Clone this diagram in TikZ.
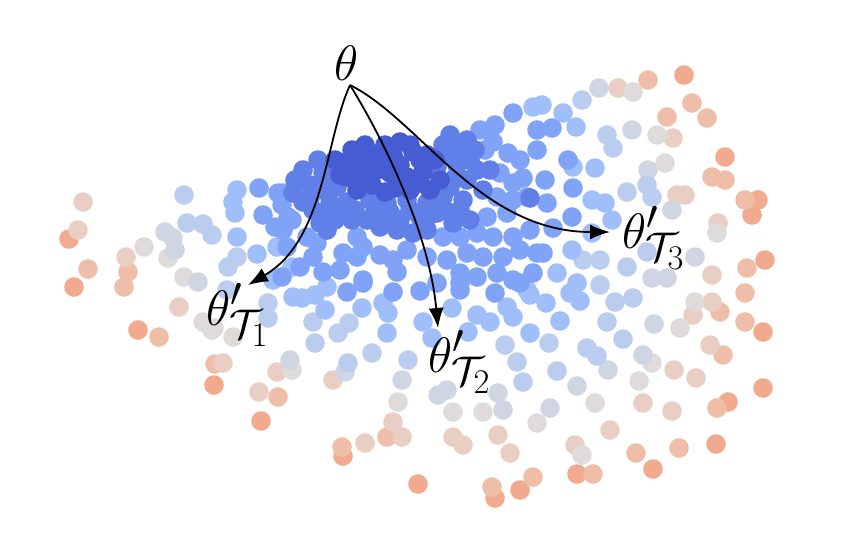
\documentclass[tikz,border=0pt]{standalone}
\usetikzlibrary{arrows.meta}
\definecolor{c0}{RGB}{70,92,210}
\definecolor{c1}{RGB}{96,128,232}
\definecolor{c2}{RGB}{128,163,247}
\definecolor{c3}{RGB}{160,191,250}
\definecolor{c4}{RGB}{186,205,238}
\definecolor{c5}{RGB}{207,213,226}
\definecolor{c6}{RGB}{223,219,218}
\definecolor{c7}{RGB}{233,207,195}
\definecolor{c8}{RGB}{239,190,168}
\definecolor{c9}{RGB}{242,170,143}
\def\dotlist{83/202/7, 78/230/7, 69/239/9, 88/269/8, 74/287/9, 126/257/7, 128/272/8, 124/287/8, 144/247/6, 165/232/5, 173/238/5, 175/250/5, 168/258/6, 184/195/4, 187/223/4, 203/224/4, 212/235/4, 184/277/6, 198/282/5, 179/307/7, 203/322/6, 214/328/6, 233/337/6, 138/330/9, 159/337/8, 237/190/3, 233/202/3, 235/213/3, 259/188/2, 278/193/2, 282/205/2, 263/215/2, 275/227/2, 237/237/3, 257/254/3, 237/257/4, 277/247/3, 228/267/4, 227/290/4, 273/280/3, 268/303/4, 268/318/4, 292/267/3, 293/297/3, 288/217/2,
212/330/6, 215/364/8, 223/363/7, 214/385/9, 259/392/7, 278/397/8, 277/372/7, 290/360/5, 292/370/6, 261/421/9,
302/298/3, 315/295/3, 327/287/3, 347/292/2, 363/283/2, 393/292/2, 388/313/3, 383/303/3, 362/308/3, 325/310/3, 313/322/4, 349/323/4, 338/333/4, 315/343/4, 387/333/3, 423/322/3, 432/338/3, 452/308/3, 460/290/2, 477/315/3, 468/332/3, 495/293/2, 490/322/3, 507/307/3, 513/317/3, 520/283/2, 530/295/3, 530/333/3, 505/345/4, 517/362/4, 523/382/4, 498/393/5, 503/410/5, 483/412/6, 453/412/6, 447/390/5, 438/395/5, 498/435/7, 510/453/7, 463/445/7, 453/437/7, 537/423/6, 333/380/7, 345/372/5, 348/363/4, 372/353/4, 408/360/4, 402/380/5, 398/402/6, 393/422/7, 402/437/7, 387/437/8, 365/443/7, 342/447/8, 343/456/9, 418/484/9, 492/487/8, 495/498/9, 520/490/9, 533/477/8,
684/75/9, 648/80/8, 633/92/6, 618/88/7, 599/88/5, 582/100/4, 563/113/3, 576/127/3, 542/105/3, 552/128/2, 537/130/2, 692/103/8, 707/118/8, 667/117/8, 673/138/7, 657/135/6, 632/130/5, 607/135/4, 613/148/4, 725/157/9, 712/177/8, 725/180/8, 665/163/6, 648/170/5, 647/185/4, 652/197/4, 677/195/7, 685/195/7, 745/200/8, 758/200/9, 752/215/9, 718/223/7, 717/233/6, 672/210/5, 627/192/4, 595/168/3, 573/167/3, 568/160/2, 537/150/2, 545/180/2, 573/188/2, 592/200/3, 605/203/3, 612/220/3, 547/203/2, 572/217/2, 553/228/2, 530/198/1, 592/233/3, 572/250/3, 543/253/2, 583/260/4, 600/260/4, 627/267/4, 647/252/4, 695/257/5, 712/275/7, 747/268/8, 765/260/9, 652/278/5, 667/278/5, 557/273/3, 577/283/3, 600/285/4,
546/303/3, 570/293/3, 580/301/3, 615/302/4, 633/298/4, 745/293/8, 695/302/6, 712/302/7, 720/312/8, 693/315/7, 745/322/8, 763/332/9, 560/321/3, 607/322/4, 654/324/5, 680/328/6, 549/343/4, 587/348/4, 597/356/4, 623/339/4, 643/355/5, 652/363/6, 674/370/7, 696/378/7, 710/345/7, 723/355/8, 763/388/9, 557/371/4, 608/370/5, 639/381/6, 577/386/5, 550/408/5, 595/403/6, 643/403/7, 672/411/7, 728/402/9, 717/408/8, 610/430/7, 575/445/7, 582/455/6, 636/453/8, 653/469/9, 679/448/8, 716/444/9, 577/474/9, 593/474/8,
303/170/1, 295/180/1, 283/193/2, 293/193/1, 310/198/1, 323/173/1, 343/163/0, 360/158/0, 370/155/0, 380/153/0, 400/142/0, 393/155/0, 413/152/0, 427/155/0, 423/172/0, 437/167/1, 447/155/1, 443/145/1, 450/135/1, 467/140/1, 480/130/2, 495/125/2, 513/113/2, 533/107/3, 457/165/1, 460/152/1, 470/160/1, 485/150/2, 493/142/2, 508/153/2, 520/160/2, 347/177/0, 363/173/0, 377/170/0, 390/173/0, 407/177/0, 420/183/0, 357/190/0, 337/187/1, 323/190/1, 330/203/1, 347/202/1, 370/200/1, 387/203/1, 407/200/1, 427/203/1, 443/197/1, 450/187/1, 467/180/1, 477/170/1, 490/170/1, 500/173/2, 513/183/2, 523/178/2, 463/200/1, 483/190/1, 497/197/2, 513/200/2, 527/197/2, 507/213/2, 487/217/2, 470/220/1, 453/223/1, 437/213/1, 420/217/1, 400/220/1, 383/223/1, 367/220/1, 352/220/1, 335/220/1, 320/223/1, 313/210/1, 303/202/1, 292/220/2, 307/237/2, 317/243/2, 327/230/1, 357/237/2, 363/247/2, 380/227/1, 397/230/1, 413/233/1, 427/230/1, 443/237/2, 460/237/2, 477/233/2, 493/237/2, 513/237/2, 530/230/2, 537/253/2, 520/250/2, 503/257/2, 483/257/2, 467/253/2, 447/260/2, 427/257/2, 407/250/2, 393/260/2, 380/255/2, 357/257/2, 343/253/2, 313/257/2, 300/267/2, 287/247/2, 283/230/2, 323/272/2, 340/270/2, 363/280/2, 397/272/2, 420/291/2, 437/283/2, 460/283/2, 477/277/2, 497/273/2, 513/280/2, 527/290/3, 460/273/2, 533/273/2, 282/277/2,
335/160/0, 352/150/0, 365/145/0, 385/145/0, 410/145/0, 420/160/0, 435/160/0, 440/180/0, 430/190/0, 400/165/0, 385/162/0, 372/185/0, 355/168/0, 340/175/0, 395/188/0, 410/190/0, 365/165/0, 385/192/0, 330/180/1, 318/160/1, 455/178/1, 445/210/1, 460/210/1, 340/210/1, 325/215/1, 390/212/1, 410/210/1, 375/212/1, 355/210/1, 430/215/1, 310/185/1, 475/150/1, 455/145/1}
\begin{document}
\begin{tikzpicture}[x=1pt,y=-1pt,
  lbl/.style={font=\Huge, scale=2, inner sep=0pt, anchor=base west},
  arr/.style={line width=1.8pt, -{Latex[length=20pt,width=15pt]}}]
\useasboundingbox (0,0) rectangle (860,538);
\foreach \k in {9,8,...,0}{
  \foreach \x/\y/\l in \dotlist {
    \ifnum\l=\k\relax
      \fill[c\l] (\x,\y) circle[radius=9.8pt];
    \fi
  }
}
\node[lbl] (theta) at (334,80) {$\theta$};
\node[lbl] (l1) at (206,325) {$\theta'_{\mathcal{T}_1}$};
\node[lbl] (l2) at (428,372) {$\theta'_{\mathcal{T}_2}$};
\node[lbl] (l3) at (622,248) {$\theta'_{\mathcal{T}_3}$};
\coordinate (t1) at (248,285);
\coordinate (t2) at (438,328);
\coordinate (t3) at (610,232);
\coordinate (apex) at (350,85);
\draw[arr] (apex) .. controls +(-25,55) and +(77,-45) .. (t1);
\draw[arr] (apex) .. controls +(40,65) and +(-8,-88) .. (t2);
\draw[arr] (apex) .. controls +(70,35) and +(-130,0) .. (t3);
\end{tikzpicture}
\end{document}
